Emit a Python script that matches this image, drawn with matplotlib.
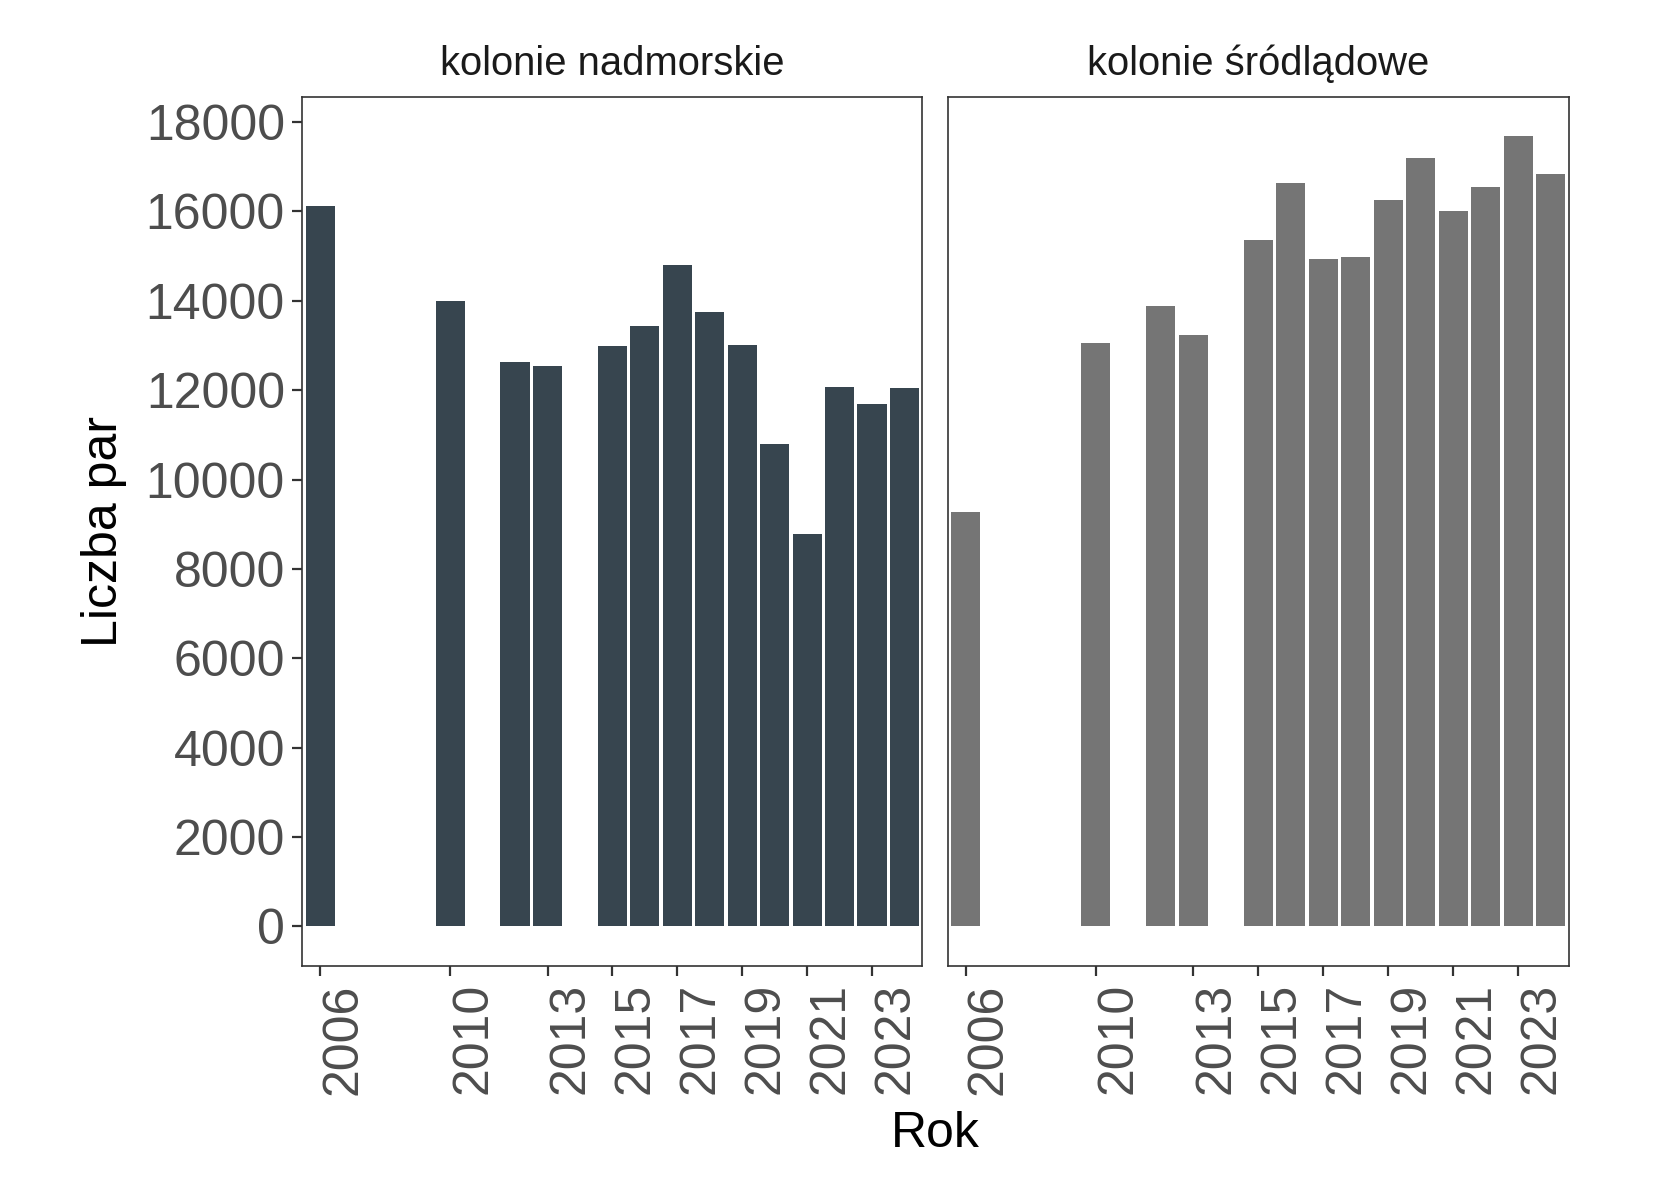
import matplotlib
matplotlib.use("Agg")
import matplotlib.pyplot as plt

plt.rcParams['font.family'] = ['Liberation Sans', 'DejaVu Sans']

years = [2006, 2010, 2012, 2013, 2015, 2016, 2017, 2018, 2019, 2020, 2021, 2022, 2023, 2024]
nadmorskie = [16120, 14000, 12620, 12530, 13000, 13440, 14800, 13750, 13020, 10790, 8780, 12060, 11680, 12040]
srodladowe = [9270, 13060, 13890, 13240, 15360, 16630, 14940, 14980, 16250, 17190, 16010, 16540, 17680, 16830]

panels = ['kolonie nadmorskie', 'kolonie śródlądowe']
colors = ['#37454F', '#757575']
xticks = [2006, 2010, 2013, 2015, 2017, 2019, 2021, 2023]
yticks = list(range(0, 18001, 2000))

fig = plt.figure(figsize=(8.265, 5.905), dpi=200)
boxes = [[0.183, 0.1823, 0.375, 0.7356], [0.5733, 0.1823, 0.3757, 0.7356]]

for k, vals in enumerate([nadmorskie, srodladowe]):
    ax = fig.add_axes(boxes[k])
    ax.bar(years, vals, width=0.9, color=colors[k], linewidth=0)
    ax.set_xlim(2005.45, 2024.55)
    ax.set_ylim(-884, 18564)
    ax.set_xticks(xticks)
    ax.set_xticklabels([str(x) for x in xticks], rotation=90, va='top', ha='left')
    ax.set_yticks(yticks)
    if k == 0:
        ax.set_yticklabels([str(y) for y in yticks])
    else:
        ax.tick_params(axis='y', left=False, labelleft=False)
    ax.tick_params(labelsize=18, colors='#333333', labelcolor='#4D4D4D',
                   length=3.6, width=0.8, pad=2.7)
    for s in ax.spines.values():
        s.set_color('#333333')
        s.set_linewidth(0.6)
    ax.set_title(panels[k], fontsize=14.4, color='#1A1A1A', pad=8)

fig.text(0.063, 0.55, 'Liczba par', rotation=90, fontsize=18, ha='center', va='center')
fig.text(0.566, 0.04, 'Rok', fontsize=18, ha='center', va='center')

fig.savefig('out.png', dpi=200)
